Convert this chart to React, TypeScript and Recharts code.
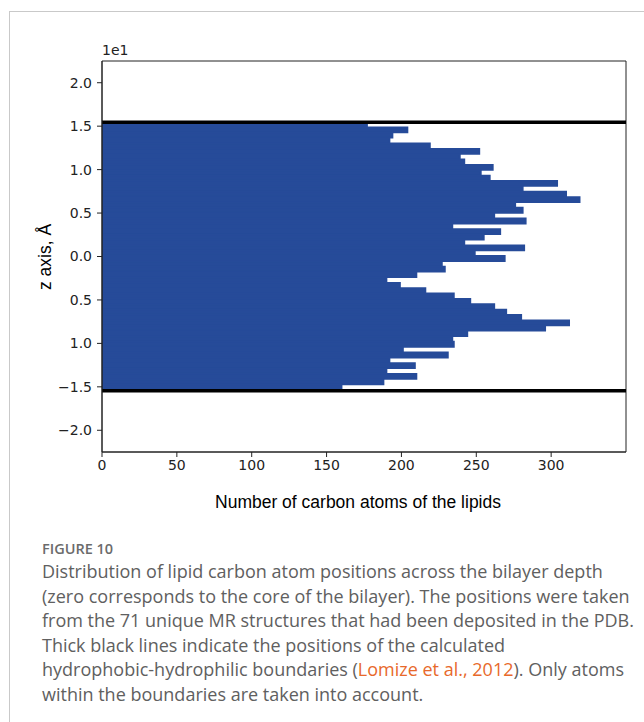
import {
  Bar,
  BarChart,
  ComposedChart,
  ReferenceArea,
  ReferenceLine,
  XAxis,
  YAxis,
} from "recharts";

// carbon atom counts per depth bin, listed from the top boundary (+15.45 Å) down to the bottom one (-15.45 Å)
const counts = [
  177, 204, 194, 192, 219, 252, 239, 242, 261, 253,
  259, 304, 281, 310, 319, 276, 281, 262, 283, 234,
  266, 255, 242, 282, 249, 269, 227, 229, 210, 190,
  199, 216, 235, 246, 262, 270, 280, 312, 296, 244,
  234, 235, 201, 231, 192, 209, 190, 210, 188, 160,
];

// hydrophobic-hydrophilic boundaries, Å
const boundaries = [15.45, -15.45];

const xTicks = [0, 50, 100, 150, 200, 250, 300];
// y axis is in units of 1e1 Å
const yTicks = [2.0, 1.5, 1.0, 0.5, 0.0, -0.5, -1.0, -1.5, -2.0];
const yTickLabels = ["2.0", "1.5", "1.0", "0.5", "0.0", "0.5", "1.0", "\u22121.5", "\u22122.0"];

const binWidth = (boundaries[0] - boundaries[1]) / counts.length;
const data = counts.map((n, i) => ({
  z: (boundaries[0] - binWidth * (i + 0.5)).toFixed(2),
  n,
}));

const W = 644;
const H = 540;
const tickStyle = { fontFamily: "DejaVu Sans", fontSize: 14, fill: "#222" };
const captionLines = [
  "Distribution of lipid carbon atom positions across the bilayer depth",
  "(zero corresponds to the core of the bilayer). The positions were taken",
  "from the 71 unique MR structures that had been deposited in the PDB.",
  "Thick black lines indicate the positions of the calculated",
];

export default function App() {
  return (
    <div
      style={{
        position: "absolute",
        left: 0,
        top: 0,
        width: 644,
        height: 722,
        overflow: "hidden",
        background: "#fff",
      }}
    >
      <div
        style={{
          position: "absolute",
          left: 9,
          top: 11,
          width: 700,
          height: 800,
          borderLeft: "1px solid #c9c9c9",
          borderTop: "1px solid #c9c9c9",
        }}
      />
      {/* histogram bars, one band per depth bin */}
      <div style={{ position: "absolute", left: 0, top: 0 }}>
        <BarChart
          width={W}
          height={H}
          data={data}
          layout="vertical"
          barCategoryGap={0}
          barGap={0}
          margin={{ top: 61, right: 18, bottom: 88, left: 102 }}
        >
          <XAxis type="number" domain={[0, 350]} allowDataOverflow hide height={0} />
          <YAxis
            type="category"
            dataKey="z"
            hide
            width={0}
            padding={{ top: 61, bottom: 62 }}
          />
          <Bar
            dataKey="n"
            fill="#264b99"
            stroke="#264b99"
            strokeWidth={1.8}
            isAnimationActive={false}
          />
        </BarChart>
      </div>
      {/* axes, frame and boundary lines on the z scale */}
      <div style={{ position: "absolute", left: 0, top: 0, pointerEvents: "none" }}>
        <ComposedChart
          width={W}
          height={H}
          data={[]}
          margin={{ top: 61, right: 18, bottom: 58, left: 42 }}
        >
          <XAxis
            type="number"
            dataKey="x"
            domain={[0, 350]}
            ticks={xTicks}
            allowDataOverflow
            height={30}
            tick={tickStyle}
            tickSize={5}
            tickMargin={3}
            stroke="#222"
          />
          <YAxis
            type="number"
            domain={[-2.25, 2.25]}
            ticks={yTicks}
            allowDataOverflow
            width={60}
            tick={tickStyle}
            tickSize={5}
            tickMargin={5}
            stroke="#222"
            tickFormatter={(v: number) => yTickLabels[yTicks.indexOf(v)] ?? String(v)}
          />
          {boundaries.map((b) => (
            <ReferenceLine key={b} y={b / 10} stroke="#000" strokeWidth={3.6} />
          ))}
          <ReferenceArea
            x1={0}
            x2={350}
            y1={-2.25}
            y2={2.25}
            fill="none"
            stroke="#222"
            strokeWidth={1}
          />
        </ComposedChart>
      </div>
      <div
        style={{
          position: "absolute",
          left: 102,
          top: 42,
          fontFamily: "DejaVu Sans",
          fontSize: 14,
          color: "#222",
        }}
      >
        1e1
      </div>
      <div
        style={{
          position: "absolute",
          left: 358,
          top: 502,
          transform: "translate(-50%, -50%)",
          fontFamily: "Liberation Sans",
          fontSize: 17.5,
          whiteSpace: "nowrap",
          color: "#000",
        }}
      >
        Number of carbon atoms of the lipids
      </div>
      <div
        style={{
          position: "absolute",
          left: 45,
          top: 257,
          transform: "translate(-50%, -50%) rotate(-90deg)",
          fontFamily: "Liberation Sans",
          fontSize: 17.5,
          whiteSpace: "nowrap",
          color: "#000",
        }}
      >
        z axis, Å
      </div>
      <div
        style={{
          position: "absolute",
          left: 42,
          top: 541,
          fontFamily: "Open Sans",
          fontSize: 14.5,
          fontWeight: 600,
          color: "#6b6b6b",
          lineHeight: "16px",
        }}
      >
        FIGURE 10
      </div>
      <div
        style={{
          position: "absolute",
          left: 42,
          top: 559,
          fontFamily: "Open Sans",
          fontSize: 18,
          color: "#606060",
          lineHeight: "24.5px",
          whiteSpace: "nowrap",
        }}
      >
        {captionLines.map((l) => (
          <div key={l}>{l}</div>
        ))}
        <div>
          hydrophobic-hydrophilic boundaries (
          <span style={{ color: "#e8692b" }}>Lomize et al., 2012</span>). Only atoms
        </div>
        <div>within the boundaries are taken into account.</div>
      </div>
    </div>
  );
}
